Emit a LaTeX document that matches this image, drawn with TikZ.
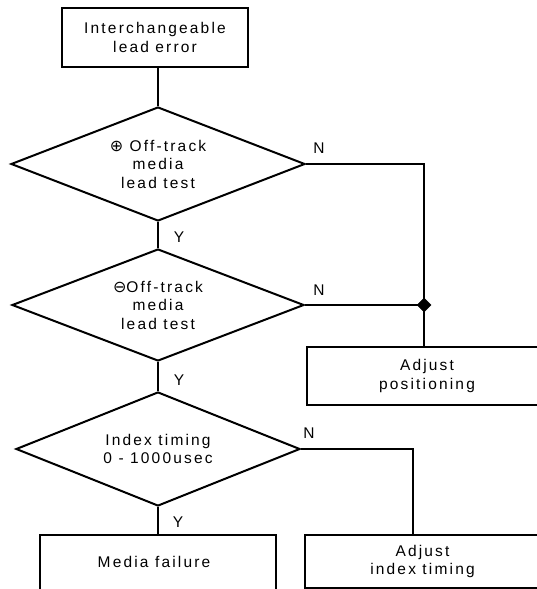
\documentclass[tikz,border=0pt]{standalone}
\usepackage{fontspec}
\setmainfont{Liberation Sans}[LetterSpace=14]
\newfontfamily\symfont{DejaVu Sans}
\usetikzlibrary{shapes.geometric}
\begin{document}
\begin{tikzpicture}[x=1pt,y=-1pt,line width=2pt,
  txt/.style={font=\fontsize{15.5}{18.5}\selectfont},
  box/.style={draw,rectangle,inner sep=0pt,align=center,txt},
  dec/.style={draw,diamond,aspect=2.58,inner sep=0pt,align=center,txt},
  lbl/.style={inner sep=0pt,txt}]
\clip (0,0) rectangle (537,589);
\fill[white] (0,0) rectangle (537,589);
% boxes
\node[box,minimum width=186pt,minimum height=59pt] (start) at (155,37.5) {Interchangeable\\lead error};
\node[dec,minimum width=294pt,minimum height=114pt] (d1) at (158,164) {{\symfont\fontsize{16}{16}\selectfont ⊕} Off-track\\media\\lead test};
\node[dec,minimum width=292pt,minimum height=112pt] (d2) at (158,305) {{\symfont\fontsize{16}{16}\selectfont ⊖}Off-track\\media\\lead test};
\node[dec,minimum width=284pt,minimum height=114pt] (d3) at (158,449) {Index timing\\0 - 1000usec};
\node[box,minimum width=240pt,minimum height=58pt] (adjpos) at (427,376) {Adjust\\positioning};
\node[box,minimum width=235pt,minimum height=53pt] (adjidx) at (422.5,561.5) {Adjust\\index timing};
\node[box,minimum width=236pt,minimum height=60pt] (fail) at (158,565) {};
\node[lbl] (failtxt) at (154,562) {Media failure};
\node[draw,fill,diamond,minimum size=14pt,inner sep=0pt,line width=0.5pt] (J) at (424,305) {};
\coordinate (c3) at (413,449);
% connectors
\draw (start.south -| d1.north) -- (d1.north);
\draw (d1.south) -- (d2.north);
\draw (d2.south) -- (d3.north);
\draw (d3.south) -- (d3.south |- fail.north);
\draw (d1.east) -| (J.center);
\draw (d2.east) -- (J.center);
\draw (J.center) -- (J.center |- adjpos.north);
\draw (d3.east) -- (c3) -- (c3 |- adjidx.north);
% labels
\node[lbl] (n1) at (319,148) {N};
\node[lbl] (n2) at (319,290) {N};
\node[lbl] (n3) at (309,433) {N};
\node[lbl] (y1) at (179,237) {Y};
\node[lbl] (y2) at (179,380) {Y};
\node[lbl] (y3) at (178,522) {Y};
\end{tikzpicture}
\end{document}
